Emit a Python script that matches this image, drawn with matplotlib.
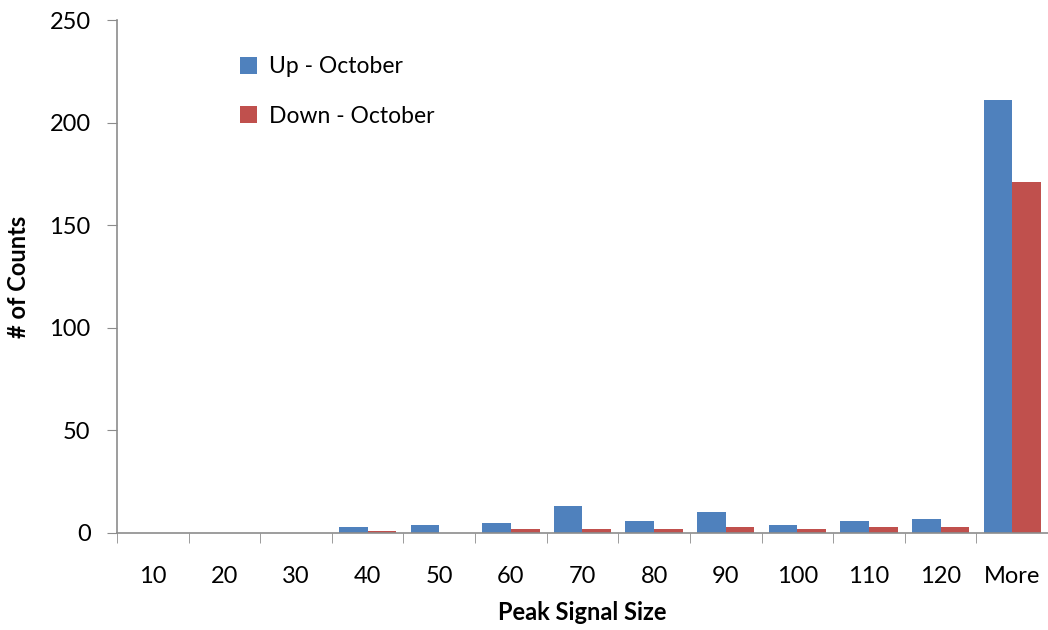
import matplotlib.pyplot as plt
import numpy as np

plt.rcParams['font.family'] = ['Lato', 'DejaVu Sans']

# histogram bins and counts per bin
bins = ['10', '20', '30', '40', '50', '60', '70', '80', '90', '100', '110', '120', 'More']
up_october = [0, 0, 0, 3, 4, 5, 13, 6, 10, 4, 6, 7, 211]
down_october = [0, 0, 0, 1, 0, 2, 2, 2, 3, 2, 3, 3, 171]

blue = '#4F81BD'
red = '#C0504D'
axis_grey = '#8C8C8C'

fig = plt.figure(figsize=(10.48, 6.30), dpi=100)
ax = fig.add_axes([0.1116, 0.154, 0.8884, 0.814])

x = np.arange(len(bins))
w = 0.4
ax.bar(x - w / 2, up_october, w, color=blue, label='Up - October')
ax.bar(x + w / 2, down_october, w, color=red, label='Down - October')

ax.set_xlim(-0.5, len(bins) - 0.5)
ax.set_ylim(0, 250)
ax.set_yticks(np.arange(0, 251, 50))

ax.set_xticks(x)
ax.set_xticklabels(bins)
ax.set_xticks(np.arange(-0.5, len(bins), 1), minor=True)
ax.tick_params(axis='x', which='major', length=0, pad=24, labelsize=17)
ax.tick_params(axis='x', which='minor', length=7, color=axis_grey, direction='out')
ax.tick_params(axis='y', length=7, color=axis_grey, direction='out', pad=12, labelsize=17)

for side in ['top', 'right']:
    ax.spines[side].set_visible(False)
for side in ['left', 'bottom']:
    ax.spines[side].set_color(axis_grey)
    ax.spines[side].set_linewidth(1.2)

ax.set_xlabel('Peak Signal Size', fontsize=17, fontweight='bold', labelpad=10)
ax.set_ylabel('# of Counts', fontsize=17, fontweight='bold', labelpad=14)

ax.legend(loc='upper left', bbox_to_anchor=(0.11, 0.97), frameon=False,
          fontsize=16.5, handlelength=0.75, handleheight=0.75, handletextpad=0.5,
          labelspacing=1.25)

plt.savefig('out.png')
